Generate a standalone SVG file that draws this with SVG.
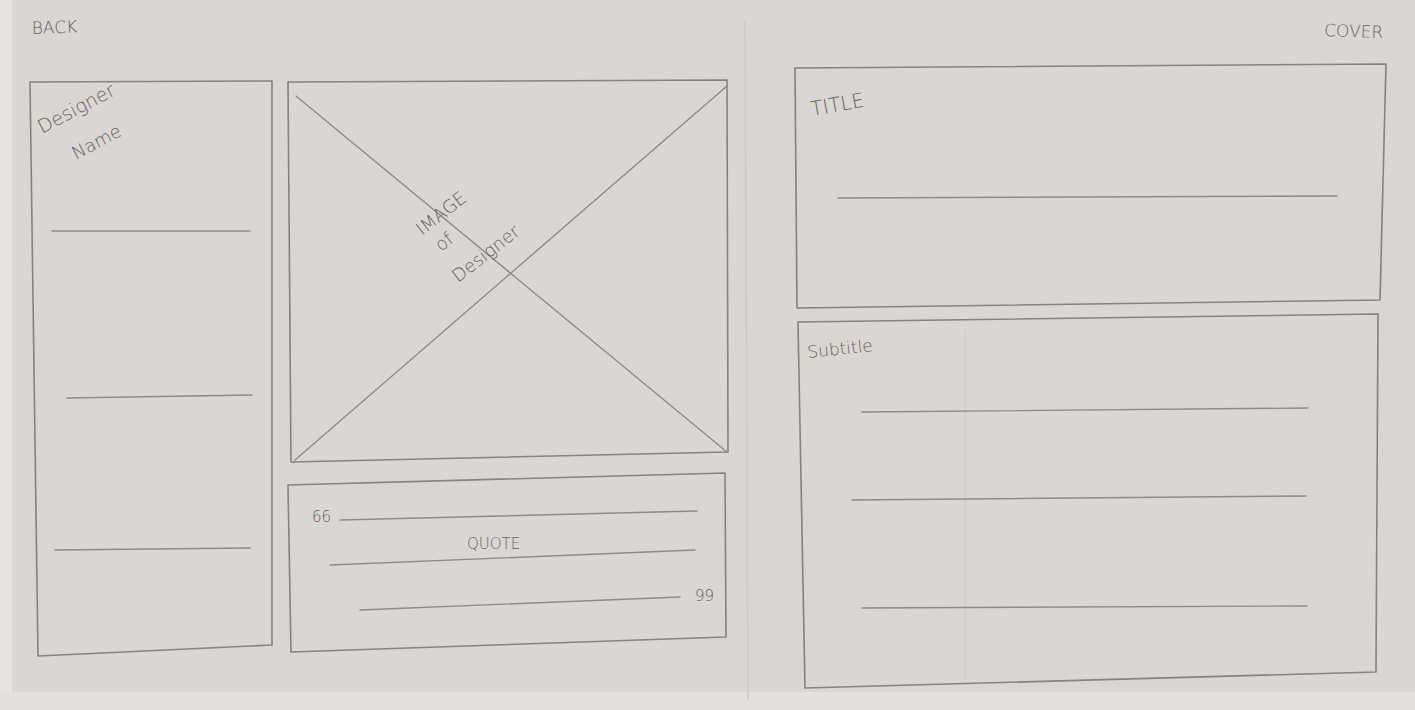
<svg xmlns="http://www.w3.org/2000/svg" width="1415" height="710" viewBox="0 0 1415 710">
<style>
.box{fill:none;stroke:#86827f;stroke-width:1.6;stroke-linejoin:round}
.ln{fill:none;stroke:#8e8a87;stroke-width:1.4;stroke-linecap:round}
.t{font-family:"DejaVu Sans",sans-serif;fill:#66625f;font-weight:300}
</style>
<rect width="1415" height="710" fill="#d9d6d3"/>
<rect x="0" y="0" width="12" height="710" fill="#e6e4e2"/>
<rect x="0" y="692" width="1415" height="18" fill="#e2e0de"/>
<line x1="745" y1="20" x2="748" y2="700" stroke="#cfccc9" stroke-width="2"/>
<g id="labels">
<text class="t" x="32" y="34" font-size="17" transform="rotate(-2 32 34)">BACK</text>
<text class="t" x="1324" y="36" font-size="17" transform="rotate(2 1324 36)">COVER</text>
</g>
<g id="back-panel">
<path class="box" d="M30 82 L272 81 L272 645 L38 656 Z"/>
<text class="t" x="42" y="134" font-size="19" transform="rotate(-28 42 134)">Designer</text>
<text class="t" x="76" y="160" font-size="18" transform="rotate(-28 76 160)">Name</text>
<line class="ln" x1="52" y1="231" x2="250" y2="231"/>
<line class="ln" x1="67" y1="398" x2="252" y2="395"/>
<line class="ln" x1="55" y1="550" x2="250" y2="548"/>
</g>
<g id="image-box">
<path class="box" d="M288 82 L727 80 L728 452 L291 462 Z"/>
<line class="ln" x1="296" y1="96" x2="727" y2="452"/>
<line class="ln" x1="727" y1="86" x2="295" y2="460"/>
<text class="t" x="422" y="236" font-size="18" transform="rotate(-38 422 236)">IMAGE</text>
<text class="t" x="441" y="252" font-size="18" transform="rotate(-38 441 252)">of</text>
<text class="t" x="458" y="283" font-size="18" transform="rotate(-38 458 283)">Designer</text>
</g>
<g id="quote-box">
<path class="box" d="M288 485 L725 473 L726 637 L291 652 Z"/>
<text class="t" x="312" y="522" font-size="15">66</text>
<line class="ln" x1="340" y1="520" x2="697" y2="511"/>
<text class="t" x="467" y="549" font-size="15">QUOTE</text>
<line class="ln" x1="330" y1="565" x2="695" y2="550"/>
<line class="ln" x1="360" y1="610" x2="680" y2="597"/>
<text class="t" x="695" y="601" font-size="15">99</text>
</g>
<g id="title-box">
<path class="box" d="M795 68 L1386 64 L1380 300 L797 308 Z"/>
<text class="t" x="812" y="116" font-size="20" transform="rotate(-10 812 116)">TITLE</text>
<line class="ln" x1="838" y1="198" x2="1337" y2="196"/>
</g>
<g id="subtitle-box">
<path class="box" d="M798 322 L1378 314 L1376 672 L805 688 Z"/>
<text class="t" x="808" y="358" font-size="17" transform="rotate(-6 808 358)">Subtitle</text>
<line x1="965" y1="330" x2="965" y2="680" stroke="#cfccc9" stroke-width="1.5"/>
<line class="ln" x1="862" y1="412" x2="1308" y2="408"/>
<line class="ln" x1="852" y1="500" x2="1306" y2="496"/>
<line class="ln" x1="862" y1="608" x2="1307" y2="606"/>
</g>
</svg>
